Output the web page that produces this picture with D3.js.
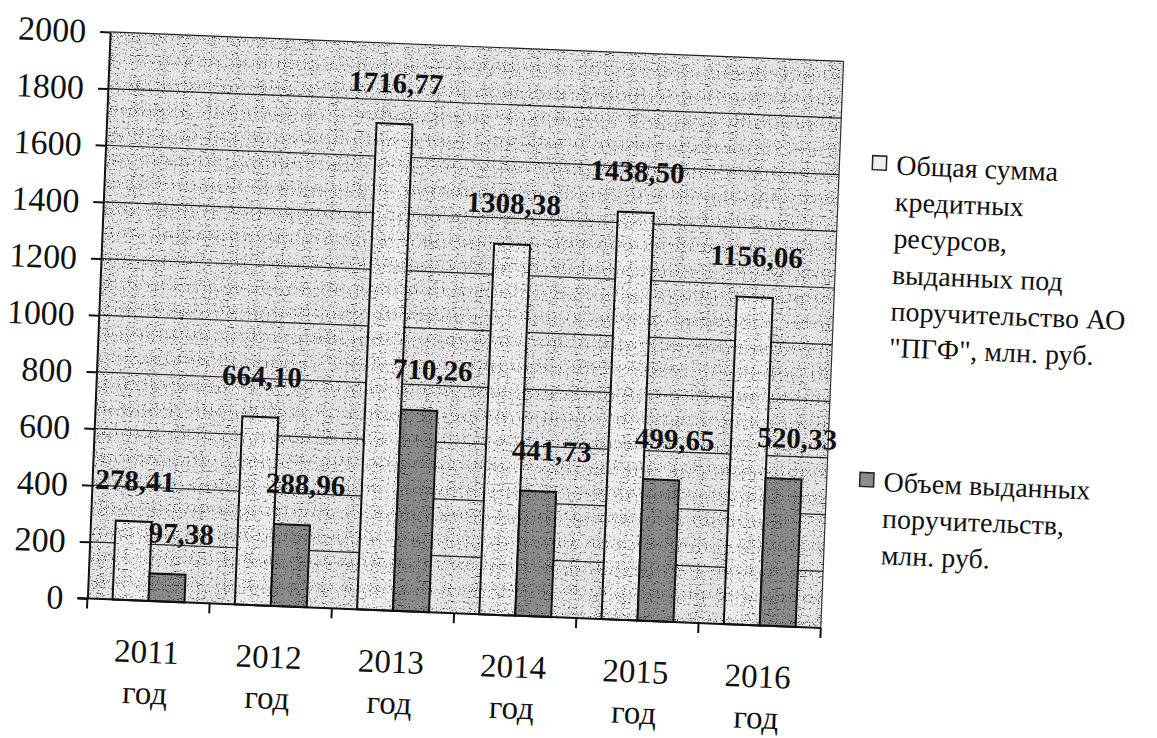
<!DOCTYPE html>
<html>
<head>
<meta charset="utf-8">
<script src="https://cdn.jsdelivr.net/npm/d3@7"></script>
<style>
  html, body { margin: 0; padding: 0; background: #fff; }
  svg { display: block; }
</style>
</head>
<body>
<svg id="chart"></svg>
<script>
const years = ['2011', '2012', '2013', '2014', '2015', '2016'];
const seriesNames = [
  ['Общая сумма', 'кредитных', 'ресурсов,', 'выданных под', 'поручительство АО', '"ПГФ", млн. руб.'],
  ['Объем выданных', 'поручительств,', 'млн. руб.']
];
const totalCredit = [278.41, 664.10, 1716.77, 1308.38, 1438.50, 1156.06];
const guarantees = [97.38, 288.96, 710.26, 441.73, 499.65, 520.33];
const yTicks = [0, 200, 400, 600, 800, 1000, 1200, 1400, 1600, 1800, 2000];

const FONT = "'Liberation Serif', 'Times New Roman', serif";
const width = 1157;
const height = 738;
const margin = { top: 51, left: 97 };
const plotW = 734;
const plotH = 567;
const fills = ['#efefef', '#8c8c8c'];

const svg = d3.select('#chart').attr('width', width).attr('height', height);

const defs = svg.append('defs');
const speckle = defs.append('filter').attr('id', 'speckle').attr('x', 0).attr('y', 0).attr('width', 1).attr('height', 1);
speckle.append('feTurbulence').attr('type', 'fractalNoise').attr('baseFrequency', 0.85).attr('numOctaves', 1).attr('seed', 7);
speckle.append('feColorMatrix').attr('type', 'matrix').attr('values', '0 0 0 0 0  0 0 0 0 0  0 0 0 0 0  -7 0 0 0 3.3');

// the source is a slightly rotated scan
const root = svg.append('g').attr('transform', `rotate(2.3, ${width / 2}, ${height / 2})`);
const g = root.append('g').attr('transform', `translate(${margin.left}, ${margin.top})`);

const x0 = d3.scaleBand().domain(years).range([0, plotW]).paddingInner(0).paddingOuter(0);
const x1 = d3.scaleBand().domain([0, 1]).range([0, x0.bandwidth()]).paddingInner(0).paddingOuter(0.7);
const y = d3.scaleLinear().domain([0, 2000]).range([plotH, 0]);

g.append('rect').attr('width', plotW).attr('height', plotH).attr('fill', '#e6e6e6');

const grid = g.append('g').attr('class', 'grid');
grid.selectAll('line')
  .data(yTicks.filter((d) => d > 0))
  .join('line')
  .attr('x1', 0).attr('x2', plotW)
  .attr('y1', (d) => y(d)).attr('y2', (d) => y(d))
  .attr('stroke', '#222').attr('stroke-width', 1.2);
g.append('line').attr('x1', plotW).attr('x2', plotW).attr('y1', 0).attr('y2', plotH).attr('stroke', '#333').attr('stroke-width', 1.2);

const seriesData = [totalCredit, guarantees];
const groups = g.selectAll('.year')
  .data(years)
  .join('g')
  .attr('class', 'year')
  .attr('transform', (d) => `translate(${x0(d)}, 0)`);

groups.selectAll('rect')
  .data((d, i) => seriesData.map((s, k) => ({ k, value: s[i] })))
  .join('rect')
  .attr('x', (d) => x1(d.k))
  .attr('width', x1.bandwidth())
  .attr('y', (d) => y(d.value))
  .attr('height', (d) => plotH - y(d.value))
  .attr('fill', (d) => fills[d.k])
  .attr('stroke', '#111')
  .attr('stroke-width', 2);

g.append('rect').attr('width', plotW).attr('height', plotH).attr('filter', 'url(#speckle)').attr('opacity', 0.8);

groups.selectAll('text.value')
  .data((d, i) => seriesData.map((s, k) => ({ k, value: s[i] })))
  .join('text')
  .attr('class', 'value')
  .attr('x', (d) => x1(d.k) + x1.bandwidth() / 2 + (d.k ? 12 : 0))
  .attr('y', (d) => y(d.value) - 31)
  .attr('text-anchor', 'middle')
  .style('font-family', FONT)
  .attr('font-size', 29)
  .attr('font-weight', 'bold')
  .attr('fill', '#111')
  .text((d) => d3.format('.2f')(d.value).replace('.', ','));

const yAxis = d3.axisLeft(y).tickValues(yTicks).tickSize(10).tickSizeOuter(0).tickPadding(14).tickFormat(d3.format('d'));
const yAxisGroup = g.append('g').attr('class', 'axis').call(yAxis);
yAxisGroup.selectAll('text').style('font-family', FONT).attr('font-size', 34).attr('fill', '#111');
yAxisGroup.selectAll('line, path').attr('stroke', '#111').attr('stroke-width', 2);

const xAxisGroup = g.append('g').attr('class', 'axis').attr('transform', `translate(0, ${plotH})`);
xAxisGroup.append('line').attr('x1', -10).attr('x2', plotW).attr('stroke', '#111').attr('stroke-width', 2);
xAxisGroup.selectAll('line.tick')
  .data(years.concat(['end']))
  .join('line')
  .attr('class', 'tick')
  .attr('x1', (d, i) => i * x0.step()).attr('x2', (d, i) => i * x0.step())
  .attr('y1', 0).attr('y2', 10)
  .attr('stroke', '#111').attr('stroke-width', 2);
const xLabels = xAxisGroup.selectAll('text')
  .data(years)
  .join('text')
  .attr('text-anchor', 'middle')
  .style('font-family', FONT)
  .attr('font-size', 33)
  .attr('fill', '#111')
  .attr('transform', (d) => `translate(${x0(d) + x0.bandwidth() / 2}, 62)`);
xLabels.append('tspan').attr('x', 0).attr('y', 0).text((d) => d);
xLabels.append('tspan').attr('x', 0).attr('y', 41).text('год');

const legend = root.append('g').attr('class', 'legend');
const legendItems = legend.selectAll('g')
  .data(seriesNames)
  .join('g')
  .attr('transform', (d, i) => `translate(864, ${i ? 463 : 146})`);
legendItems.append('rect')
  .attr('x', 0).attr('y', -2)
  .attr('width', 14).attr('height', 14)
  .attr('fill', (d, i) => fills[i])
  .attr('stroke', '#222').attr('stroke-width', 1.5);
legendItems.append('text')
  .style('font-family', FONT)
  .attr('font-size', 28)
  .attr('fill', '#111')
  .selectAll('tspan')
  .data((d) => d)
  .join('tspan')
  .attr('x', 24)
  .attr('y', (d, i) => 16 + i * 36.5)
  .text((d) => d);
</script>
</body>
</html>
